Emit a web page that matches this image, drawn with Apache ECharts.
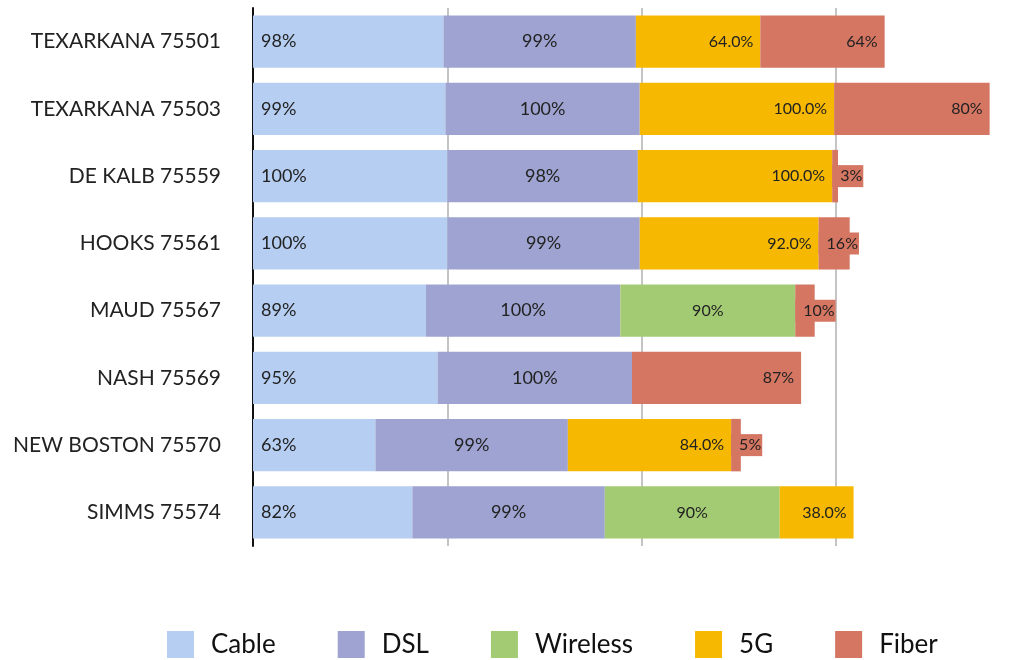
<!DOCTYPE html>
<html>
<head>
<meta charset="utf-8">
<script src="https://cdn.jsdelivr.net/npm/echarts@6/dist/echarts.min.js"></script>
<style>
  html, body { margin: 0; padding: 0; background: #fff; }
  #chart { width: 1018px; height: 660px; }
</style>
</head>
<body>
<div id="chart"></div>
<script>
// categories (top to bottom)
const areas = ['TEXARKANA 75501', 'TEXARKANA 75503', 'DE KALB 75559', 'HOOKS 75561',
  'MAUD 75567', 'NASH 75569', 'NEW BOSTON 75570', 'SIMMS 75574'];

// coverage per technology, % (null = none)
const cable    = [98, 99, 100, 100, 89, 95, 63, 82];
const dsl      = [99, 100, 98, 99, 100, 100, 99, 99];
const wireless = [null, null, null, null, 90, null, null, 90];
const fiveG    = [64, 100, 100, 92, null, null, 84, 38];
const fiber    = [64, 80, 3, 16, 10, 87, 5, null];

const colors = {
  Cable: '#b6cef2',
  DSL: '#9ea3d1',
  Wireless: '#a3cb74',
  '5G': '#f6b800',
  Fiber: '#d47662'
};

const font = 'Lato, "Noto Sans", sans-serif';
const pct = p => p.value + '%';

// fiber labels spill past short bars on a red box
function fiberItems(arr) {
  return arr.map(v => {
    if (v == null) return null;
    if (v >= 20) return v;
    return {
      value: v,
      label: {
        position: 'insideLeft',
        distance: 0,
        backgroundColor: colors.Fiber,
        padding: [3, 1, 3, 8]
      }
    };
  });
}

function makeSeries(name, data, label) {
  return {
    name: name,
    type: 'bar',
    stack: 'all',
    barCategoryGap: '22%',
    itemStyle: { color: colors[name] },
    label: Object.assign({
      show: true,
      color: '#222',
      fontFamily: font,
      fontSize: 16,
      formatter: pct
    }, label),
    data: data
  };
}

const chart = echarts.init(document.getElementById('chart'));

chart.setOption({
  animation: false,
  grid: { left: 253, top: 8, bottom: 114, right: 7 },
  xAxis: {
    type: 'value',
    min: 0,
    max: 390,
    interval: 100,
    axisLabel: { show: false },
    axisLine: { show: false },
    axisTick: { show: false },
    splitLine: { showMaxLine: false, lineStyle: { color: '#c4c4c4', width: 2 } }
  },
  yAxis: {
    type: 'category',
    inverse: true,
    data: areas,
    axisTick: { show: false },
    axisLine: { lineStyle: { color: '#111', width: 2 } },
    axisLabel: { color: '#222', fontFamily: font, fontSize: 21, margin: 32 }
  },
  legend: {
    top: 626,
    left: 162,
    itemWidth: 27,
    itemHeight: 27,
    itemGap: 62,
    icon: 'rect',
    textStyle: { color: '#111', fontFamily: font, fontSize: 26, padding: [0, 0, 0, 12] },
    data: ['Cable', 'DSL', 'Wireless', '5G', 'Fiber']
  },
  series: [
    makeSeries('Cable', cable, { position: 'insideLeft', distance: 8, fontSize: 18 }),
    makeSeries('DSL', dsl, { position: 'inside', fontSize: 18 }),
    makeSeries('Wireless', wireless, { position: 'inside' }),
    makeSeries('5G', fiveG, { position: 'insideRight', distance: 7, formatter: p => p.value.toFixed(1) + '%' }),
    makeSeries('Fiber', fiberItems(fiber), { position: 'insideRight', distance: 7 })
  ]
});
</script>
</body>
</html>
